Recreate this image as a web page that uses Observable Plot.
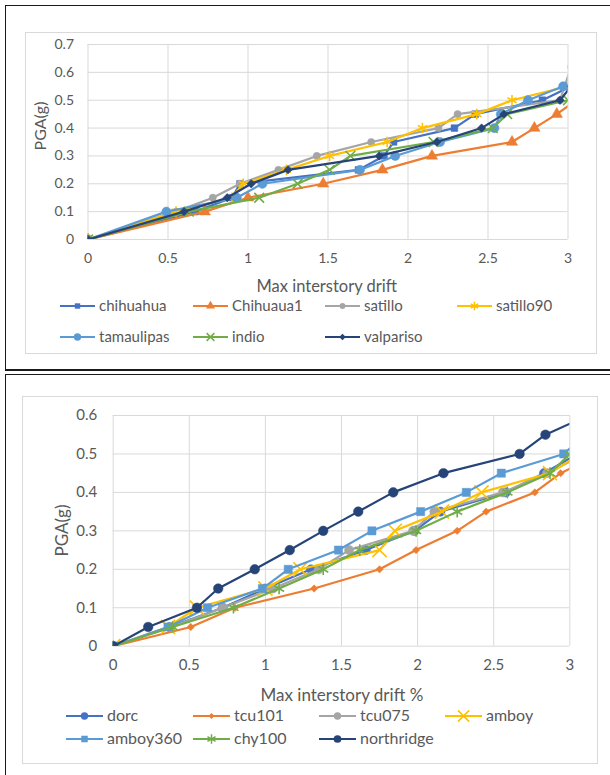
<!DOCTYPE html>
<html><head><meta charset="utf-8">
<script src="https://cdn.jsdelivr.net/npm/d3@7"></script>
<script src="https://cdn.jsdelivr.net/npm/@observablehq/plot@0.6"></script>
<style>
body{margin:0;background:#fff;font-family:Lato,"Open Sans",sans-serif;color:#595959;}
#page{position:relative;width:610px;height:775px;overflow:hidden;background:#fff;}
.panel{position:absolute;border-left:1px solid #1a1a1a;border-top:1px solid #1a1a1a;box-sizing:border-box;}
.inner{position:absolute;border:1px solid #d9d9d9;box-sizing:border-box;}
.ttl{position:absolute;white-space:nowrap;color:#595959;line-height:1;}
.leg{position:absolute;white-space:nowrap;color:#595959;line-height:1;}
svg{overflow:visible;}
</style></head><body><div id="page"></div>
<script>
// ---------- DATA: top chart ----------
const topNames = ["chihuahua","Chihuaua1","satillo","satillo90","tamaulipas","indio","valpariso"];
const chihuahua  = [[0,0],[0.67,0.1],[0.9,0.15],[0.95,0.2],[1.69,0.25],[1.85,0.3],[1.91,0.35],[2.29,0.4],[2.42,0.45],[2.84,0.5],[3.02,0.55]];
const chihuaua1  = [[0,0],[0.73,0.1],[1.0,0.15],[1.47,0.2],[1.84,0.25],[2.15,0.3],[2.65,0.35],[2.79,0.4],[2.93,0.45],[3.05,0.5]];
const satillo    = [[0,0],[0.55,0.1],[0.78,0.15],[0.95,0.2],[1.19,0.25],[1.43,0.3],[1.77,0.35],[2.19,0.4],[2.31,0.45],[2.95,0.5],[3.02,0.62]];
const satillo90  = [[0,0],[0.55,0.1],[0.9,0.15],[0.97,0.2],[1.24,0.25],[1.51,0.3],[1.87,0.35],[2.09,0.4],[2.43,0.45],[2.65,0.5],[3.0,0.55]];
const tamaulipas = [[0,0],[0.49,0.1],[0.93,0.15],[1.09,0.2],[1.7,0.25],[1.92,0.3],[2.2,0.35],[2.54,0.4],[2.58,0.45],[2.75,0.5],[2.97,0.55]];
const indio      = [[0,0],[0.63,0.1],[1.07,0.15],[1.31,0.2],[1.51,0.25],[1.64,0.3],[2.16,0.35],[2.53,0.4],[2.62,0.45],[3.0,0.5]];
const valpariso  = [[0,0],[0.6,0.1],[0.87,0.15],[1.02,0.2],[1.25,0.25],[1.82,0.3],[2.18,0.35],[2.46,0.4],[2.6,0.45],[2.95,0.5],[3.02,0.55]];
const topXTicks = [0,0.5,1,1.5,2,2.5,3];
const topYTicks = [0,0.1,0.2,0.3,0.4,0.5,0.6,0.7];
const topXLabel = "Max interstory drift";
const topYLabel = "PGA(g)";

// ---------- DATA: bottom chart ----------
const botNames = ["dorc","tcu101","tcu075","amboy","amboy360","chy100","northridge"];
const dorc       = [[0,0],[0.37,0.05],[0.72,0.1],[1.0,0.15],[1.3,0.2],[1.66,0.25],[1.98,0.3],[2.15,0.35],[2.58,0.4],[2.83,0.45],[3.05,0.5]];
const tcu101     = [[0,0],[0.51,0.05],[0.8,0.1],[1.32,0.15],[1.75,0.2],[1.99,0.25],[2.26,0.3],[2.45,0.35],[2.77,0.4],[2.94,0.45],[3.2,0.5]];
const tcu075     = [[0,0],[0.38,0.05],[0.72,0.1],[1.05,0.15],[1.35,0.2],[1.55,0.25],[1.97,0.3],[2.11,0.35],[2.56,0.4],[2.85,0.45],[3.1,0.5]];
const amboy      = [[0,0],[0.36,0.05],[0.55,0.1],[1.0,0.15],[1.23,0.2],[1.75,0.25],[1.85,0.3],[2.16,0.35],[2.42,0.4],[2.87,0.45],[3.07,0.5]];
const amboy360   = [[0,0],[0.36,0.05],[0.62,0.1],[0.98,0.15],[1.15,0.2],[1.48,0.25],[1.7,0.3],[2.02,0.35],[2.32,0.4],[2.55,0.45],[2.96,0.5],[3.1,0.55]];
const chy100     = [[0,0],[0.39,0.05],[0.79,0.1],[1.09,0.15],[1.38,0.2],[1.62,0.25],[1.99,0.3],[2.26,0.35],[2.59,0.4],[2.87,0.45],[3.0,0.5]];
const northridge = [[0,0],[0.23,0.05],[0.55,0.1],[0.69,0.15],[0.93,0.2],[1.16,0.25],[1.38,0.3],[1.61,0.35],[1.84,0.4],[2.17,0.45],[2.67,0.5],[2.84,0.55],[3.12,0.6]];
const botXTicks = [0,0.5,1,1.5,2,2.5,3];
const botYTicks = [0,0.1,0.2,0.3,0.4,0.5,0.6];
const botXLabel = "Max interstory drift %";
const botYLabel = "PGA(g)";

// ---------- STYLES ----------
const topStyle = [
  {c:"#4472C4", s:"square",   r:3.8},
  {c:"#ED7D31", s:"triangle", r:4.2},
  {c:"#A5A5A5", s:"circle",   r:3.6},
  {c:"#FFC000", s:"asterisk", r:5},
  {c:"#5B9BD5", s:"circle",   r:4.6},
  {c:"#70AD47", s:"times",    r:4.5},
  {c:"#264478", s:"diamond2", r:3.8}
];
const botStyle = [
  {c:"#4472C4", s:"circle",   r:4.6},
  {c:"#ED7D31", s:"diamond2", r:3.3},
  {c:"#A5A5A5", s:"circle",   r:4.6},
  {c:"#FFC000", s:"times",    r:6.5},
  {c:"#5B9BD5", s:"square",   r:4.6},
  {c:"#70AD47", s:"asterisk", r:5.5},
  {c:"#264478", s:"circle",   r:4.8}
];
const strokeSyms = new Set(["asterisk","times"]);

const page = document.getElementById("page");
function el(tag, cls, css, txt){const e=document.createElement(tag); if(cls)e.className=cls; Object.assign(e.style,css||{}); if(txt!=null)e.textContent=txt; page.appendChild(e); return e;}

function seriesMarks(data, st){
  const o = {x:d=>d[0], y:d=>d[1], clip:true};
  const dotOpts = strokeSyms.has(st.s)
    ? {...o, symbol:st.s, r:st.r, stroke:st.c, strokeWidth:1.6, fill:"none"}
    : {...o, symbol:st.s, r:st.r, fill:st.c, stroke:st.c, strokeWidth:0.5};
  return [Plot.line(data, {...o, stroke:st.c, strokeWidth:2.2}), Plot.dot(data, dotOpts)];
}

function chart(cfg){
  const svg = Plot.plot({
    width:610, height:cfg.h,
    marginLeft:cfg.ml, marginRight:cfg.mr, marginTop:cfg.mt, marginBottom:cfg.mb,
    x:{domain:[0,3]}, y:{domain:cfg.ydom},
    style:{fontFamily:"Lato, 'Open Sans', sans-serif", fontSize:cfg.fs+"px", color:"#595959", background:"transparent", overflow:"visible"},
    marks:[
      Plot.gridX(cfg.xt, {stroke:"#d9d9d9", strokeOpacity:1, strokeWidth:1}),
      Plot.gridY(cfg.yt, {stroke:"#d9d9d9", strokeOpacity:1, strokeWidth:1}),
      Plot.axisX(cfg.xt, {tickSize:0, tickPadding:cfg.xpad, label:null, tickFormat:d=>String(d), fill:"#595959"}),
      Plot.axisY(cfg.yt, {tickSize:0, tickPadding:cfg.ypad, label:null, tickFormat:d=>String(d), fill:"#595959"}),
      ...cfg.series.flatMap((d,i)=>seriesMarks(d, cfg.styles[i]))
    ]
  });
  svg.style.position="absolute"; svg.style.left="0px"; svg.style.top=cfg.top+"px";
  page.appendChild(svg);
}

function swatchSVG(st, w){
  const ns="http://www.w3.org/2000/svg";
  const s=document.createElementNS(ns,"svg"); s.setAttribute("width",w); s.setAttribute("height",14);
  const l=document.createElementNS(ns,"line"); l.setAttribute("x1",0); l.setAttribute("x2",w); l.setAttribute("y1",7); l.setAttribute("y2",7);
  l.setAttribute("stroke",st.c); l.setAttribute("stroke-width",2.2); s.appendChild(l);
  const map={square:d3.symbolSquare,triangle:d3.symbolTriangle,circle:d3.symbolCircle,asterisk:d3.symbolAsterisk,times:d3.symbolTimes,diamond2:d3.symbolDiamond2};
  const rr=st.r*0.8;
  const p=document.createElementNS(ns,"path"); p.setAttribute("d", d3.symbol(map[st.s], rr*rr*Math.PI)());
  p.setAttribute("transform",`translate(${w/2},7)`);
  if(strokeSyms.has(st.s)){p.setAttribute("fill","none");p.setAttribute("stroke",st.c);p.setAttribute("stroke-width",1.5);}
  else {p.setAttribute("fill",st.c);}
  s.appendChild(p); return s;
}

function legend(names, styles, cols, rows, w, gap, fs){
  names.forEach((n,i)=>{
    const x=cols[i%4], y=rows[Math.floor(i/4)];
    const sw=swatchSVG(styles[i], w); sw.style.position="absolute"; sw.style.left=x+"px"; sw.style.top=(y-7)+"px"; page.appendChild(sw);
    el("div","leg",{left:(x+gap)+"px", top:(y-fs*0.55)+"px", fontSize:fs+"px"}, n);
  });
}

// ---------- panels ----------
el("div","panel",{left:"5px",top:"5px",width:"700px",height:"366px",borderBottom:"2px solid #1a1a1a"});
el("div","inner",{left:"25px",top:"32px",width:"572px",height:"322px"});
el("div","panel",{left:"5px",top:"374px",width:"700px",height:"500px"});
el("div","inner",{left:"22px",top:"396px",width:"576px",height:"368px"});

// top chart: frame x 87.5..567.5, y 44..239
chart({h:275, top:0, ml:87.5, mr:42.5, mt:44, mb:36, ydom:[0,0.7], xt:topXTicks, yt:topYTicks, xpad:14, ypad:14, fs:14,
  series:[chihuahua,chihuaua1,satillo,satillo90,tamaulipas,indio,valpariso], styles:topStyle});
// bottom chart: frame x 112.7..569.3, y 415..645.7
chart({h:300, top:380, ml:112.7, mr:40.7, mt:35, mb:34.3, ydom:[0,0.6], xt:botXTicks, yt:botYTicks, xpad:13, ypad:16, fs:15,
  series:[dorc,tcu101,tcu075,amboy,amboy360,chy100,northridge], styles:botStyle});

// axis titles (centered on measured positions)
const t1=el("div","ttl",{fontSize:"16.5px"},topXLabel); t1.style.left=(327-t1.offsetWidth/2)+"px"; t1.style.top=(286-t1.offsetHeight/2)+"px";
const t2=el("div","ttl",{fontSize:"17px"},botXLabel); t2.style.left=(342-t2.offsetWidth/2)+"px"; t2.style.top=(694-t2.offsetHeight/2)+"px";
const y1=el("div","ttl",{fontSize:"16px"},topYLabel); y1.style.left=(40-y1.offsetWidth/2)+"px"; y1.style.top=(126-y1.offsetHeight/2)+"px"; y1.style.transform="rotate(-90deg)";
const y2=el("div","ttl",{fontSize:"17px"},botYLabel); y2.style.left=(62-y2.offsetWidth/2)+"px"; y2.style.top=(530-y2.offsetHeight/2)+"px"; y2.style.transform="rotate(-90deg)";

// legends
legend(topNames, topStyle, [60,193,325,457], [306,337], 35, 39, 15);
legend(botNames, botStyle, [66,193,319,445], [716,739], 37, 41, 16);
</script></body></html>
